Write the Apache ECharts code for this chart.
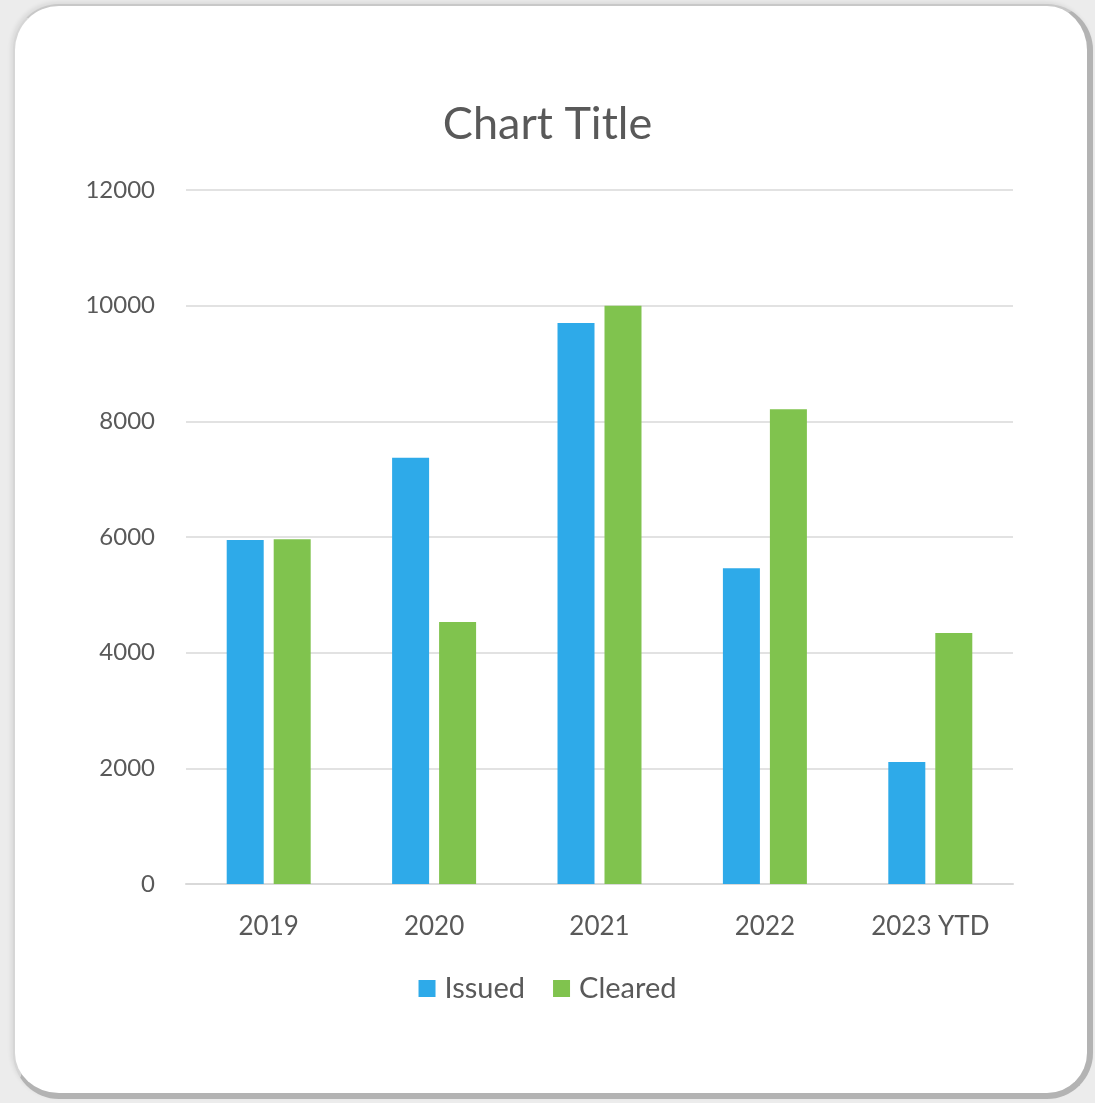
<!DOCTYPE html>
<html>
<head>
<meta charset="utf-8">
<script src="https://cdn.jsdelivr.net/npm/echarts@6/dist/echarts.min.js"></script>
<style>
  html, body { margin: 0; padding: 0; background: #ececec; }
  #card {
    position: absolute; left: 13px; top: 4px; width: 1072px; height: 1087px;
    background: #fff; border-radius: 46px;
    border-left: 2px solid #d6d6d6; border-top: 2px solid #c8c8c8;
    border-right: 6px solid #b3b3b3; border-bottom: 6px solid #b3b3b3;
    box-shadow: -2px -2px 4px rgba(0,0,0,0.08);
  }
  #main { position: absolute; left: 0; top: 0; width: 1095px; height: 1103px; }
</style>
</head>
<body>
<div id="card"></div>
<div id="main"></div>
<script>
var categories = ['2019', '2020', '2021', '2022', '2023 YTD']
var issued = [5950, 7370, 9700, 5460, 2110]
var cleared = [5960, 4530, 10000, 8210, 4340]

var myChart = echarts.init(document.getElementById('main'))

var font = 'Lato, "Open Sans", sans-serif'

var option = {
  textStyle: { fontFamily: font },
  title: {
    text: 'Chart Title',
    left: 'center',
    top: 97,
    textStyle: { fontFamily: font, fontSize: 45, fontWeight: 'normal', color: '#595959' }
  },
  legend: {
    data: ['Issued', 'Cleared'],
    top: 969,
    left: 'center',
    icon: 'rect',
    itemWidth: 17,
    itemHeight: 17,
    itemGap: 28,
    textStyle: { fontFamily: font, fontSize: 29, color: '#595959', padding: [0, 0, 0, 4] }
  },
  grid: { left: 186, right: 82, top: 190, bottom: 219 },
  xAxis: {
    type: 'category',
    data: categories,
    axisLine: { lineStyle: { color: '#d9d9d9', width: 2 } },
    axisTick: { show: false },
    axisLabel: { fontFamily: font, fontSize: 26, color: '#595959', margin: 30 }
  },
  yAxis: {
    type: 'value',
    min: 0,
    max: 12000,
    interval: 2000,
    axisLine: { show: false },
    axisTick: { show: false },
    splitLine: { lineStyle: { color: '#d9d9d9', width: 1.5 } },
    axisLabel: {
      fontFamily: font, fontSize: 24, color: '#595959', margin: 31,
      formatter: function (v) { return String(v) }
    }
  },
  series: [
    {
      name: 'Issued',
      type: 'bar',
      data: issued,
      barWidth: 37,
      barGap: '27%',
      itemStyle: { color: '#2eaae9' }
    },
    {
      name: 'Cleared',
      type: 'bar',
      data: cleared,
      barWidth: 37,
      itemStyle: { color: '#80c34e' }
    }
  ]
}
myChart.setOption(option)
</script>
</body>
</html>
